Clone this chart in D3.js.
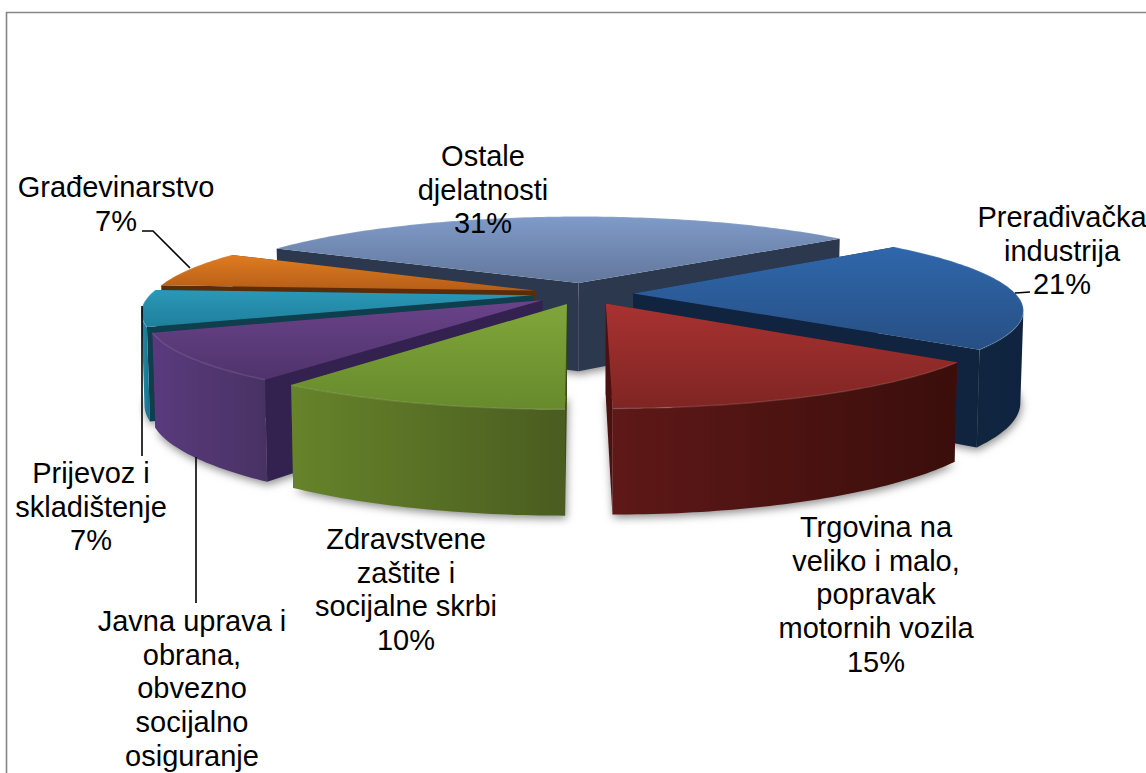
<!DOCTYPE html>
<html>
<head>
<meta charset="utf-8">
<script src="https://cdnjs.cloudflare.com/ajax/libs/d3/7.8.5/d3.min.js"></script>
<style>
  html, body { margin: 0; padding: 0; background: #fff; overflow: hidden; }
  text { font-family: "Liberation Sans", Arial, sans-serif; font-size: 29px; fill: #000; text-anchor: middle; }
</style>
</head>
<body>
<script>
var w = 1146;
var h = 773;

// data, clockwise from the back of the pie
var categories = ["Ostale djelatnosti", "Prerađivačka industrija", "Trgovina na veliko i malo, popravak motornih vozila",
  "Zdravstvene zaštite i socijalne skrbi", "Javna uprava i obrana, obvezno socijalno osiguranje",
  "Prijevoz i skladištenje", "Građevinarstvo"];
var values = [31.2, 21.3, 14.5, 10.2, 9, 6.9, 6.9];

var labelLines = [
  ["Ostale", "djelatnosti", "31%"],
  ["Prerađivačka", "industrija", "21%"],
  ["Trgovina na", "veliko i malo,", "popravak", "motornih vozila", "15%"],
  ["Zdravstvene", "zaštite i", "socijalne skrbi", "10%"],
  ["Javna uprava i", "obrana,", "obvezno", "socijalno", "osiguranje"],
  ["Prijevoz i", "skladištenje", "7%"],
  ["Građevinarstvo", "7%"]
];

// label anchor: centre x, first baseline
var labelX = [483, 1062, 876, 406, 192, 91, 116];
var labelY = [166, 227, 537, 549, 631, 483, 197];
var lineGap = 33.7;

// colours per slice: top light, top dark, rim left, rim right, cut faces
var topLight = ["#7f9bc9", "#2f67ab", "#a83231", "#80a63a", "#6a4389", "#2b98b8", "#e07c20"];
var topDark = ["#62779b", "#274f84", "#7f2523", "#678a2c", "#4f336c", "#1f7f9c", "#b55e18"];
var rimLeft = ["#3a475e", "#10263f", "#5e1817", "#66842a", "#5a3a7e", "#1f8cab", "#a85614"];
var rimRight = ["#2c384e", "#0f2340", "#3a0e0b", "#4a5c20", "#483263", "#17708a", "#8a4610"];
var faceColor = ["#2c384d", "#10243f", "#4a1110", "#3f4f1a", "#33214f", "#0f3e4c", "#5a2c08"];

var leaders = [
  [[142, 231], [153, 231], [190, 268]],
  [[1015, 293], [1030, 292]],
  [[142, 306], [142, 456]],
  [[196, 457], [196, 603]]
];

// painter's order, far slices first
var drawOrder = [0, 1, 6, 5, 4, 3, 2];

var explode = 0.132;
var depth = 88;
var persp = 0.18;

var xScale = d3.scaleLinear().domain([-1, 1]).range([583 - 382, 583 + 382]);
var yScale = d3.scaleLinear().domain([-1, 1]).range([293.6 - 82, 293.6 + 82]);

var toRad = Math.PI / 180;
var pie = d3.pie().sort(null).startAngle(-61.4 * toRad).endAngle(298.6 * toRad);
var slices = pie(values);

// flat pie coords to screen, lift 0 = top face, 1 = bottom face
function project(px, pz, lift) {
  var p = 1 / (1 - persp * pz);
  var x = xScale(px * p);
  if (lift) { x = xScale(0) + (x - xScale(0)) * 0.993; }
  return [x, yScale(pz * p) + lift * depth * (0.28 + 0.74 * p)];
}

function apex(s) {
  var mid = (s.startAngle + s.endAngle) / 2;
  return [explode * Math.sin(mid), -explode * Math.cos(mid)];
}

function rimPoints(s, lift) {
  var o = apex(s);
  var n = Math.ceil((s.endAngle - s.startAngle) / toRad);
  return d3.range(n + 1).map(function(i) {
    var a = s.startAngle + (s.endAngle - s.startAngle) * i / n;
    return project(o[0] + Math.sin(a), o[1] - Math.cos(a), lift);
  });
}

function apexPoint(s, lift) {
  var o = apex(s);
  return project(o[0], o[1], lift);
}

var line = d3.line();

var svg = d3.select("body").append("svg").attr("width", w).attr("height", h);
var defs = svg.append("defs");

defs.append("filter").attr("id", "soft")
  .attr("x", "-10%").attr("y", "-10%").attr("width", "120%").attr("height", "120%")
  .append("feGaussianBlur").attr("stdDeviation", 4);

function gradient(id, horizontal, c1, c2) {
  var g = defs.append("linearGradient").attr("id", id)
    .attr("x1", 0).attr("y1", 0)
    .attr("x2", horizontal ? 1 : 0).attr("y2", horizontal ? 0 : 1);
  g.append("stop").attr("offset", 0).attr("stop-color", c1);
  g.append("stop").attr("offset", 1).attr("stop-color", c2);
}

slices.forEach(function(s, i) {
  gradient("top" + i, false, topLight[i], topDark[i]);
  gradient("rim" + i, true, rimLeft[i], rimRight[i]);
});

// frame
svg.append("path")
  .attr("d", line([[6.5, h], [6.5, 12.5], [w, 12.5]]))
  .attr("fill", "none")
  .attr("stroke", "#868686")
  .attr("stroke-width", 1.6);

// soft shadow of the bottom faces, under everything
var shadows = svg.append("g").attr("filter", "url(#soft)").attr("transform", "translate(1,3)");
slices.forEach(function(s) {
  shadows.append("path")
    .attr("d", line([apexPoint(s, 1)].concat(rimPoints(s, 1))) + "Z")
    .attr("fill", "#8c8c8c");
});

drawOrder.forEach(function(i) {
  var s = slices[i];
  var g = svg.append("g").attr("class", "slice").attr("id", "slice" + i);
  g.append("title").text(categories[i] + " " + values[i] + "%");

  var top = rimPoints(s, 0);
  var bottom = rimPoints(s, 1);
  var a0 = apexPoint(s, 0);
  var a1 = apexPoint(s, 1);

  // the two cut faces
  [[top[0], bottom[0]], [top[top.length - 1], bottom[bottom.length - 1]]].forEach(function(e) {
    g.append("path")
      .attr("d", line([a0, e[0], e[1], a1]) + "Z")
      .attr("fill", faceColor[i]);
  });

  // outer wall, only the part facing us (x runs right to left there)
  var wall = "";
  d3.range(top.length - 1).forEach(function(k) {
    if (top[k + 1][0] < top[k][0]) {
      wall += line([top[k], top[k + 1], bottom[k + 1], bottom[k]]) + "Z";
    }
  });
  if (wall) {
    g.append("path")
      .attr("d", wall)
      .attr("fill", "url(#rim" + i + ")");
  }

  // top face
  g.append("path")
    .attr("d", line([a0].concat(top)) + "Z")
    .attr("fill", "url(#top" + i + ")");

  // thin highlight on the rim edge
  g.append("path")
    .attr("d", line(top))
    .attr("fill", "none")
    .attr("stroke", "#fff")
    .attr("stroke-opacity", 0.12)
    .attr("stroke-width", 1.5);
});

// leader lines
svg.selectAll("path.leader")
  .data(leaders)
  .enter()
  .append("path")
  .attr("class", "leader")
  .attr("d", function(d) { return line(d); })
  .attr("fill", "none")
  .attr("stroke", "#000")
  .attr("stroke-width", 1.6);

// labels
var labels = svg.selectAll("text.label")
  .data(labelLines)
  .enter()
  .append("text")
  .attr("class", "label")
  .attr("y", function(d, i) { return labelY[i]; });

labels.each(function(d, i) {
  d3.select(this).selectAll("tspan")
    .data(d)
    .enter()
    .append("tspan")
    .attr("x", labelX[i])
    .attr("dy", function(t, j) { return j ? lineGap : 0; })
    .text(function(t) { return t; });
});
</script>
</body>
</html>
